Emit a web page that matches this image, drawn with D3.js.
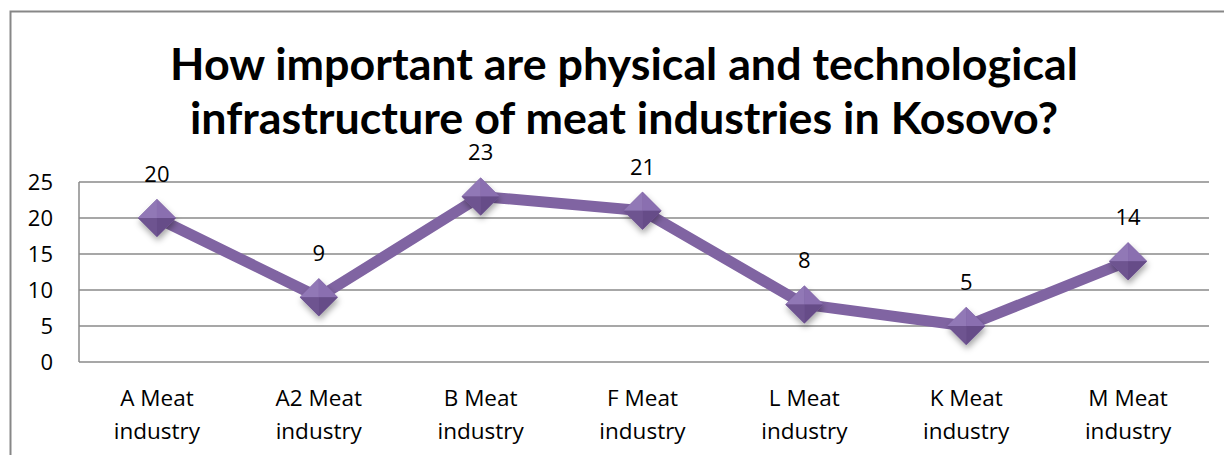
<!DOCTYPE html>
<html>
<head>
<meta charset="utf-8">
<title>Meat industries infrastructure</title>
<script src="https://cdnjs.cloudflare.com/ajax/libs/d3/7.8.5/d3.min.js"></script>
<style>
  body { margin: 0; background: #fff; }
  text { font-family: "Open Sans", Lato, sans-serif; fill: #000; }
  .title { font-family: Lato, "Open Sans", sans-serif; font-weight: bold; }
</style>
</head>
<body>
<script>
// chart data
var categories = ['A Meat industry', 'A2 Meat industry', 'B Meat industry', 'F Meat industry',
                  'L Meat industry', 'K Meat industry', 'M Meat industry'];
var values = [20, 9, 23, 21, 8, 5, 14];
var yTicks = [0, 5, 10, 15, 20, 25];
var titleLines = ['How important are physical and technological',
                  'infrastructure of meat industries in Kosovo?'];

var W = 1224, H = 455;
var purple = '#8064a2';

var svg = d3.select('body').append('svg')
  .attr('width', W)
  .attr('height', H);

var defs = svg.append('defs');
var shadow = defs.append('filter').attr('id', 'shadow')
  .attr('x', '-50%').attr('y', '-50%').attr('width', '200%').attr('height', '200%');
shadow.append('feDropShadow')
  .attr('dx', 1).attr('dy', 4).attr('stdDeviation', 3)
  .attr('flood-color', '#000').attr('flood-opacity', 0.35);

// outer chart border
svg.append('rect')
  .attr('x', 10.5).attr('y', 11.5)
  .attr('width', W + 20).attr('height', H + 20)
  .attr('fill', 'none').attr('stroke', '#878787').attr('stroke-width', 2);

// title
var title = svg.append('g');
var lineY = [80, 134];
titleLines.forEach(function(t, i) {
  title.append('text')
    .attr('class', 'title')
    .attr('x', 624).attr('y', lineY[i])
    .attr('text-anchor', 'middle')
    .style('font-size', '40px')
    .text(t);
});
// fit first line to the reference width
var first = title.select('text').node();
var fs = 40 * 908 / first.getComputedTextLength();
title.selectAll('text').style('font-size', fs + 'px');

var x = d3.scaleBand().domain(categories).range([76, 1209]);
var y = d3.scaleLinear().domain([0, 25]).range([362, 182]);

// gridlines
svg.append('g').selectAll('line')
  .data(yTicks)
  .enter().append('line')
  .attr('x1', 79).attr('x2', 1209)
  .attr('y1', function(d) { return y(d); })
  .attr('y2', function(d) { return y(d); })
  .attr('stroke', '#8a8a8a').attr('stroke-width', 1.5);

// y axis line
svg.append('line')
  .attr('x1', 79).attr('x2', 79)
  .attr('y1', y(25)).attr('y2', y(0))
  .attr('stroke', '#8a8a8a').attr('stroke-width', 1.5);

// y tick labels
svg.append('g').selectAll('text')
  .data(yTicks)
  .enter().append('text')
  .attr('x', 53)
  .attr('y', function(d) { return y(d) + 8; })
  .attr('text-anchor', 'end')
  .style('font-size', '22px')
  .text(function(d) { return d; });

// category labels (two lines)
var cat = svg.append('g').selectAll('text')
  .data(categories)
  .enter().append('text')
  .attr('text-anchor', 'middle')
  .style('font-size', '22.5px');
cat.append('tspan')
  .attr('x', function(d) { return x(d) + x.bandwidth() / 2; })
  .attr('y', 406)
  .text(function(d) { return d.split(' ').slice(0, 2).join(' '); });
cat.append('tspan')
  .attr('x', function(d) { return x(d) + x.bandwidth() / 2; })
  .attr('y', 439)
  .text(function(d) { return d.split(' ').slice(2).join(' '); });

// line
var pts = categories.map(function(c, i) {
  return { c: c, v: values[i], px: x(c) + x.bandwidth() / 2, py: y(values[i]) };
});

svg.append('path')
  .datum(pts)
  .attr('fill', 'none')
  .attr('stroke', purple)
  .attr('stroke-width', 11)
  .attr('stroke-linejoin', 'round')
  .attr('d', d3.line().x(function(d) { return d.px; }).y(function(d) { return d.py; }));

// diamond markers with bevel look
var r = 19;
var mk = svg.append('g').selectAll('g')
  .data(pts)
  .enter().append('g')
  .attr('transform', function(d) { return 'translate(' + d.px + ',' + d.py + ')'; });

mk.append('path')
  .attr('d', 'M0,' + (-r) + 'L' + r + ',0L0,' + r + 'L' + (-r) + ',0Z')
  .attr('fill', '#7a5e9d')
  .attr('filter', 'url(#shadow)');
mk.append('path')
  .attr('d', 'M0,' + (-r) + 'L' + r + ',0L0,0Z')
  .attr('fill', '#8a6fb0');
mk.append('path')
  .attr('d', 'M0,' + (-r) + 'L' + (-r) + ',0L0,0Z')
  .attr('fill', '#9178b6');
mk.append('path')
  .attr('d', 'M' + (-r) + ',0L0,' + r + 'L0,0Z')
  .attr('fill', '#6e5490');
mk.append('path')
  .attr('d', 'M' + r + ',0L0,' + r + 'L0,0Z')
  .attr('fill', '#664c88');

// data labels
svg.append('g').selectAll('text')
  .data(pts)
  .enter().append('text')
  .attr('x', function(d) { return d.px; })
  .attr('y', function(d) { return d.py - 36; })
  .attr('text-anchor', 'middle')
  .style('font-size', '22px')
  .text(function(d) { return d.v; });
</script>
</body>
</html>
